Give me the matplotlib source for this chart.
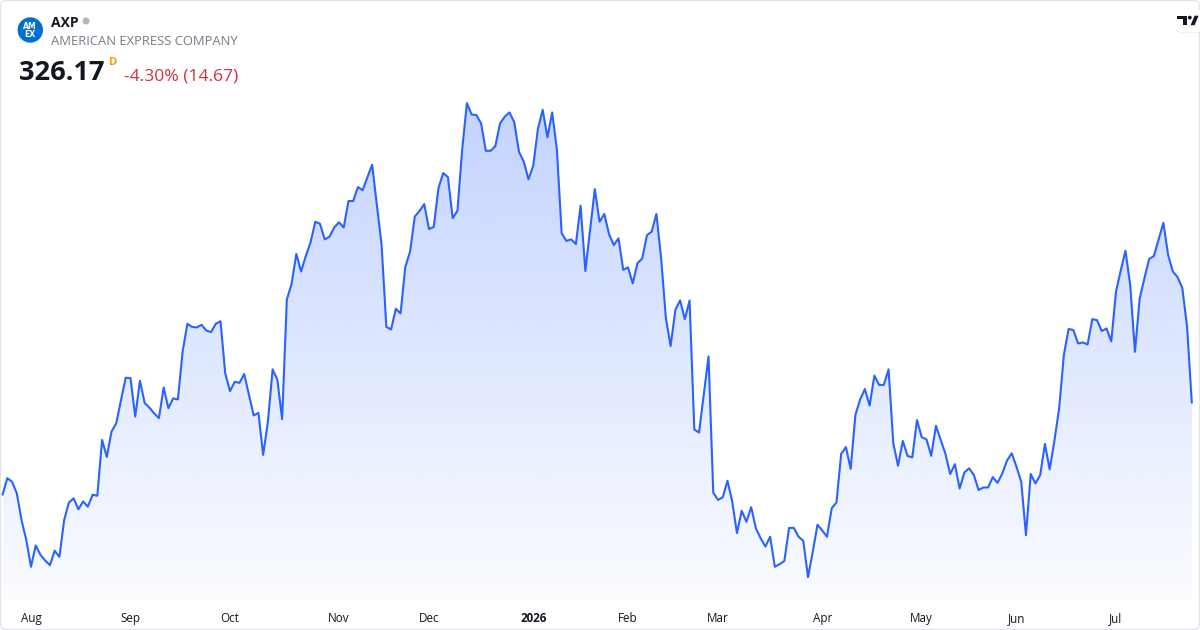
import matplotlib
matplotlib.use('Agg')
import matplotlib.pyplot as plt
import numpy as np
from matplotlib.patches import Polygon, FancyBboxPatch, Circle
from matplotlib.colors import to_rgb

# ---------------- data (daily closes, Jul 24 2025 .. Jul 24 2026) ----------------
prices = [
    308.4, 311.6, 310.9, 308.7, 303.5, 299.7, 294.5, 298.6, 296.8, 295.7,
    294.8, 297.6, 296.4, 303.5, 306.9, 307.7, 305.6, 307.1, 306.1, 308.4,
    308.2, 319.0, 315.7, 320.6, 322.2, 326.7, 331.0, 330.9, 323.5, 330.4,
    326.1, 325.2, 324.1, 323.2, 329.1, 325.1, 327.0, 326.8, 336.0, 341.4,
    340.8, 340.7, 341.2, 340.1, 339.8, 341.4, 341.9, 331.8, 328.4, 330.2,
    330.0, 331.7, 327.7, 323.7, 324.2, 316.1, 322.5, 332.6, 330.6, 323.0,
    346.1, 349.1, 354.9, 351.5, 354.5, 357.1, 361.1, 360.7, 357.7, 358.2,
    360.0, 361.0, 360.0, 365.1, 365.1, 367.8, 367.2, 369.7, 372.1, 364.3,
    356.6, 340.8, 340.3, 344.3, 343.4, 352.4, 355.3, 362.1, 363.2, 364.5,
    359.7, 360.1, 367.6, 370.5, 369.7, 361.8, 363.2, 375.0, 384.0, 381.8,
    381.7, 380.1, 374.8, 374.8, 375.7, 380.1, 381.4, 382.2, 380.3, 374.6,
    372.7, 369.3, 371.9, 379.1, 382.7, 377.4, 382.2, 375.0, 358.9, 357.4,
    357.7, 356.8, 364.2, 351.6, 359.5, 367.4, 361.1, 362.6, 358.7, 356.6,
    357.9, 351.8, 352.3, 349.2, 353.1, 354.0, 358.5, 359.2, 362.6, 354.0,
    342.5, 337.1, 344.1, 345.9, 342.3, 345.9, 321.0, 320.4, 327.7, 335.1,
    308.8, 307.4, 307.9, 311.1, 307.1, 301.0, 305.3, 303.2, 306.0, 301.9,
    300.0, 298.4, 300.3, 294.5, 295.0, 295.6, 302.0, 302.0, 300.3, 299.5,
    292.5, 297.4, 302.6, 301.5, 300.3, 305.8, 306.9, 316.3, 317.6, 313.4,
    323.8, 326.8, 328.8, 325.6, 331.4, 329.6, 329.6, 332.6, 318.3, 314.0,
    318.8, 315.9, 315.6, 322.8, 319.5, 319.1, 315.9, 321.7, 319.0, 316.3,
    312.4, 314.3, 309.6, 312.7, 313.5, 312.2, 309.3, 309.8, 309.8, 311.8,
    310.7, 312.5, 315.0, 316.4, 313.8, 310.9, 300.6, 312.4, 310.6, 312.2,
    318.2, 313.3, 318.8, 325.1, 335.4, 340.4, 340.2, 337.6, 337.8, 337.4,
    342.3, 342.1, 340.0, 340.5, 338.0, 347.6, 351.7, 355.5, 348.9, 336.0,
    346.3, 350.2, 353.9, 354.5, 357.7, 360.9, 354.7, 351.5, 350.4, 348.3,
    340.84, 326.17,
]
tick_pos = [6, 27, 48, 71, 90, 112, 132, 151, 173, 194, 214, 235]
tick_labels = ['Aug', 'Sep', 'Oct', 'Nov', 'Dec', '2026', 'Feb', 'Mar',
               'Apr', 'May', 'Jun', 'Jul']
bold_ticks = ['2026']
symbol = 'AXP'
company = 'AMERICAN EXPRESS COMPANY'
last_price = '326.17'
interval = 'D'
change_text = '-4.30% (14.67)'

# ---------------- figure ----------------
W, H = 1200, 630
plt.rcParams['font.family'] = ['Open Sans', 'DejaVu Sans']
fig = plt.figure(figsize=(W / 100, H / 100), dpi=100)
fig.patch.set_facecolor('white')

ax = fig.add_axes([0, 30 / H, 1, 600 / H])
ax.axis('off')
line_color = '#2962FF'
x = np.arange(len(prices))
ymin, ymax = 288.08, 403.91

verts = list(zip(x, prices)) + [(x[-1], ymin), (x[0], ymin)]
poly = Polygon(verts, closed=True, facecolor='none', edgecolor='none',
               transform=ax.transData)
ax.add_patch(poly)
ny = 400
grad = np.zeros((ny, 1, 4))
grad[..., :3] = to_rgb(line_color)
grad[:, 0, 3] = np.linspace(0.28, 0.02, ny)
im = ax.imshow(grad, extent=(x[0], x[-1], ymin, max(prices)), aspect='auto',
               origin='upper', interpolation='bilinear', zorder=1)
im.set_clip_path(poly)
ax.plot(x, prices, color=line_color, lw=1.5, zorder=3,
        solid_joinstyle='round', solid_capstyle='round')
ax.set_xlim(-0.542, 252.73)
ax.set_ylim(ymin, ymax)

for p, lab in zip(tick_pos, tick_labels):
    ax.text(p, -22 / 600, lab, transform=ax.get_xaxis_transform(),
            ha='center', va='baseline', fontsize=8.4, color='#131722',
            fontweight='bold' if lab in bold_ticks else 'normal')

# ---------------- overlay (header, logo, border) ----------------
ov = fig.add_axes([0, 0, 1, 1], zorder=5)
ov.set_xlim(0, W)
ov.set_ylim(H, 0)
ov.axis('off')

ov.add_patch(FancyBboxPatch((0.5, 0.5), W - 1, H - 1,
                            boxstyle='round,pad=0,rounding_size=6',
                            ec='#e0e3eb', fc='none', lw=0.9))

ov.add_patch(Circle((30.3, 30), 12, color='#016FD0'))
ov.text(30.3, 29.2, 'AM', ha='center', va='baseline', fontsize=5.6,
        fontweight='bold', color='white', family=['DejaVu Sans'])
ov.text(30.3, 37.0, 'EX', ha='center', va='baseline', fontsize=5.6,
        fontweight='bold', color='white', family=['DejaVu Sans'])

ov.text(51, 26.7, symbol, fontsize=10, fontweight='bold', color='#131722',
        va='baseline')
ov.add_patch(Circle((86, 21), 2.8, color='#b2b5be'))
ov.text(51, 45, company, fontsize=9.35, color='#787b86', va='baseline')
ov.text(18.5, 80.5, last_price, fontsize=19.6, fontweight='bold',
        color='#131722', va='baseline')
ov.text(109.5, 65, interval, fontsize=8, fontweight='bold', color='#FF9800',
        va='baseline')
ov.text(124, 80.5, change_text, fontsize=12.6, color='#D22F3F', va='baseline')

# TradingView pill logo (top right)
ov.add_patch(FancyBboxPatch((1171.5, 11), 40, 22,
                            boxstyle='round,pad=0,rounding_size=11',
                            ec='none', fc='#000000', alpha=0.06))
ov.add_patch(FancyBboxPatch((1171, 10), 40, 22,
                            boxstyle='round,pad=0,rounding_size=11',
                            ec='none', fc='white'))
ov.add_patch(Polygon([(1177.3, 15.7), (1187.2, 15.7), (1187.2, 25.2),
                      (1183.0, 25.2), (1183.0, 19.3), (1177.3, 19.3)],
                     closed=True, fc='#131722', ec='none'))
ov.add_patch(Circle((1189.8, 17.6), 1.9, fc='#131722', ec='none'))
ov.add_patch(Polygon([(1190.6, 25.2), (1194.6, 15.7), (1198.6, 15.7),
                      (1194.6, 25.2)], closed=True, fc='#131722', ec='none'))

fig.savefig('out.png', dpi=100, facecolor='white')
